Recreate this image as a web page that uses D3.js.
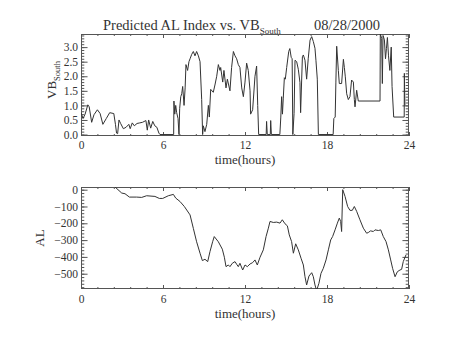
<!DOCTYPE html>
<html>
<head>
<meta charset="utf-8">
<script src="https://cdn.jsdelivr.net/npm/d3@7/dist/d3.min.js"></script>
<style>
  html, body { margin: 0; padding: 0; background: #fff; }
  svg { display: block; }
  text { font-family: "Liberation Serif", "DejaVu Serif", serif; fill: #333; }
</style>
</head>
<body>
<svg id="chart" width="454" height="341"></svg>
<script>
// Hour ticks shared by both panels
const hourTicks = [0, 6, 12, 18, 24];
const vbTicks = [0, 0.5, 1.0, 1.5, 2.0, 2.5, 3.0];
const alTicks = [-500, -400, -300, -200, -100, 0];

// VB_South (mV/m) against time in hours
const vbTime = [
  0.00, 0.15, 0.30, 0.50, 0.60, 0.78, 0.95, 1.20, 1.40, 1.60, 1.85, 2.10, 2.40, 2.52, 2.60, 2.68, 2.78, 2.90,
  3.10, 3.30, 3.50, 3.60, 3.75, 3.90, 4.10, 4.30, 4.50, 4.75, 4.85, 4.95, 5.10, 5.25, 5.40, 5.55, 5.70, 5.78,
  6.78, 6.80, 6.86, 6.93, 7.00, 7.10, 7.17, 7.22, 7.30, 7.37, 7.44, 7.54, 7.62, 7.68, 7.80, 7.90, 7.98, 8.10,
  8.22, 8.34, 8.46, 8.59, 8.71, 8.83, 8.90, 8.95, 9.07, 9.20, 9.32, 9.39, 9.49, 9.68, 9.80, 9.93, 10.05, 10.17,
  10.22, 10.37, 10.46, 10.61, 10.71, 10.90, 11.02, 11.15, 11.27, 11.39, 11.51, 11.63, 11.76, 11.88, 12.00, 12.12,
  12.24, 12.37, 12.41, 12.56, 12.73, 12.85, 12.93, 13.00, 13.55, 13.58, 13.63, 13.85, 13.88, 13.93, 14.55, 14.62,
  14.68, 14.74, 14.80, 14.88, 14.95, 15.05, 15.20, 15.28, 15.38, 15.45, 15.50, 15.59, 15.66, 15.78, 15.90, 16.02,
  16.07, 16.20, 16.27, 16.39, 16.51, 16.63, 16.76, 16.88, 17.00, 17.12, 17.19, 17.29, 17.37, 18.45, 18.50, 18.60,
  18.65, 18.71, 18.83, 18.90, 19.07, 19.20, 19.27, 19.34, 19.44, 19.56, 19.68, 19.80, 19.93, 20.00, 20.05, 20.17,
  20.29, 21.88, 21.90, 22.00, 22.05, 22.10, 22.20, 22.28, 22.35, 22.42, 22.50, 22.60, 22.70, 22.76, 22.88, 23.65,
  23.66, 23.70
];
const vbValue = [
  0.75, 0.55, 0.70, 1.02, 0.95, 0.42, 0.68, 0.85, 0.72, 0.35, 0.55, 0.75, 0.72, 0.35, 0.05, 0.03, 0.50, 0.38,
  0.20, 0.25, 0.35, 0.20, 0.40, 0.30, 0.38, 0.40, 0.42, 0.48, 0.15, 0.50, 0.22, 0.45, 0.30, 0.25, 0.05, 0.00,
  0.00, 1.15, 0.70, 1.00, 0.75, 0.55, 0.00, 0.90, 1.30, 1.40, 1.65, 1.00, 1.60, 2.40, 2.20, 2.50, 2.60, 2.75,
  2.85, 2.70, 2.85, 2.70, 2.50, 1.20, 0.00, 0.30, 0.10, 0.35, 1.00, 0.60, 1.55, 1.45, 1.70, 2.00, 2.40, 2.20,
  2.30, 1.80, 2.20, 1.60, 1.90, 1.50, 2.30, 2.85, 2.70, 2.60, 2.40, 2.30, 1.60, 1.30, 1.80, 2.45,
  2.20, 1.50, 0.70, 0.85, 2.00, 2.35, 1.00, 0.00, 0.00, 0.45, 0.00, 0.00, 0.48, 0.00, 0.00, 0.60,
  1.30, 0.70, 1.25, 1.95, 1.90, 2.30, 2.85, 2.95, 2.65, 2.60, 0.00, 0.72, 2.55, 2.50, 2.24, 1.79,
  0.75, 2.67, 2.73, 2.55, 1.90, 2.62, 3.24, 3.36, 3.19, 2.96, 2.55, 1.90, 0.00, 0.00, 0.55, 0.60,
  1.80, 3.03, 2.20, 1.75, 1.75, 2.58, 2.30, 1.98, 1.40, 1.20, 1.30, 1.87, 1.80, 1.20, 0.95, 1.52,
  1.15, 1.15, 3.45, 3.30, 1.75, 3.40, 3.25, 2.60, 2.95, 3.33, 2.70, 2.20, 3.00, 1.65, 0.60, 0.60,
  2.10, 1.00
];

// Predicted AL index (nT) against time in hours
const alTime = [
  2.49, 2.98, 3.22, 3.54, 4.07, 4.44, 4.80, 5.41, 5.73, 5.98, 6.39, 6.76, 6.93, 7.24, 7.56, 7.98, 8.22, 8.46,
  8.71, 8.88, 9.07, 9.27, 9.44, 9.63, 9.75, 10.05, 10.34, 10.49, 10.61, 10.78, 10.90, 11.07, 11.27, 11.39, 11.51,
  11.63, 11.83, 12.00, 12.17, 12.37, 12.56, 12.73, 12.90, 13.10, 13.34, 13.54, 13.71, 13.83, 14.07, 14.32, 14.56,
  14.73, 14.93, 15.10, 15.24, 15.41, 15.54, 15.71, 15.90, 16.10, 16.27, 16.39, 16.51, 16.68, 16.88, 17.00, 17.12,
  17.24, 17.41, 17.56, 17.73, 17.93, 18.10, 18.27, 18.41, 18.59, 18.76, 18.90, 19.00, 19.07, 19.15, 19.32, 19.51,
  19.68, 19.85, 20.00, 20.17, 20.41, 20.66, 20.90, 21.02, 21.19, 21.39, 21.51, 21.76, 21.93, 22.12, 22.32, 22.49,
  22.66, 22.80, 22.98, 23.15, 23.34, 23.46, 23.58, 23.78
];
const alValue = [
  16, -20, -24, -44, -44, -46, -36, -40, -52, -52, -36, -28, -50, -70, -100, -150, -230, -310,
  -378, -422, -414, -428, -368, -310, -279, -310, -354, -402, -458, -448, -458, -438, -428, -444, -458,
  -438, -478, -448, -458, -442, -434, -418, -448, -402, -358, -279, -229, -189, -195, -193, -199,
  -179, -203, -215, -269, -309, -378, -322, -358, -408, -448, -518, -567, -514, -494, -518, -567,
  -600, -557, -498, -468, -418, -358, -299, -279, -239, -199, -169, -189, -249, 0, -40, -100,
  -123, -123, -100, -129, -179, -229, -259, -255, -245, -249, -239, -243, -239, -279, -309, -358,
  -418, -468, -518, -488, -478, -474, -428, -388
];

const vbData = vbTime.map((t, i) => ({ t, v: vbValue[i] }));
const alData = alTime.map((t, i) => ({ t, v: alValue[i] }));

const svg = d3.select("#chart");
const AXIS = "#555";
const LINE = "#333";

const left = 81, right = 409;
const x = d3.scaleLinear().domain([0, 24]).range([left, right]);
const hourMinor = d3.range(0, 24.01, 1.2);

function panel(opt) {
  const { top, bottom, y, majors, minors, fmt, data, id, labelPad } = opt;
  const g = svg.append("g");
  const w = right - left, h = bottom - top;
  const xt = Math.round(h * 0.02 * 10) / 10;   // x tick length
  const yt = w * 0.02;                           // y tick length

  g.append("clipPath").attr("id", id).append("rect")
    .attr("x", left).attr("y", top).attr("width", w).attr("height", h);

  const strokeAxis = sel => {
    sel.select(".domain").remove();
    sel.selectAll("line").attr("stroke", AXIS);
  };

  // bottom axis with labels
  g.append("g").attr("transform", `translate(0,${bottom})`)
    .call(d3.axisBottom(x).tickValues(hourTicks).tickSize(-xt * 2).tickPadding(labelPad).tickFormat(d3.format("d")))
    .call(strokeAxis)
    .call(s => s.selectAll("text").attr("font-size", 11.5).attr("fill", "#333")
      .style("font-family", '"Liberation Serif", serif'));
  g.append("g").attr("transform", `translate(0,${bottom})`)
    .call(d3.axisBottom(x).tickValues(hourMinor).tickSize(-xt).tickFormat(""))
    .call(strokeAxis);
  // top axis, ticks only
  g.append("g").attr("transform", `translate(0,${top})`)
    .call(d3.axisTop(x).tickValues(hourTicks).tickSize(-xt * 2).tickFormat(""))
    .call(strokeAxis);
  g.append("g").attr("transform", `translate(0,${top})`)
    .call(d3.axisTop(x).tickValues(hourMinor).tickSize(-xt).tickFormat(""))
    .call(strokeAxis);

  // left axis with labels
  g.append("g").attr("transform", `translate(${left},0)`)
    .call(d3.axisLeft(y).tickValues(majors).tickSize(-yt).tickPadding(3).tickFormat(fmt))
    .call(strokeAxis)
    .call(s => s.selectAll("text").attr("font-size", 11.5).attr("fill", "#333")
      .style("font-family", '"Liberation Serif", serif'));
  g.append("g").attr("transform", `translate(${left},0)`)
    .call(d3.axisLeft(y).tickValues(minors).tickSize(-yt / 2).tickFormat(""))
    .call(strokeAxis);
  // right axis, ticks only
  g.append("g").attr("transform", `translate(${right},0)`)
    .call(d3.axisRight(y).tickValues(majors).tickSize(-yt).tickFormat(""))
    .call(strokeAxis);
  g.append("g").attr("transform", `translate(${right},0)`)
    .call(d3.axisRight(y).tickValues(minors).tickSize(-yt / 2).tickFormat(""))
    .call(strokeAxis);

  // frame
  g.append("rect").attr("x", left + 0.5).attr("y", top + 0.5)
    .attr("width", w - 1).attr("height", h - 1)
    .attr("fill", "none").attr("stroke", AXIS);

  // data trace
  g.append("path").datum(data)
    .attr("clip-path", `url(#${id})`)
    .attr("fill", "none").attr("stroke", LINE).attr("stroke-width", 1)
    .attr("stroke-linejoin", "round")
    .attr("d", d3.line().x(d => x(d.t)).y(d => y(d.v)));

  // x title
  g.append("text").attr("x", (left + right) / 2).attr("y", opt.xTitleY)
    .attr("text-anchor", "middle").attr("font-size", 13).text("time(hours)");
  return g;
}

// Upper panel: VB_South
const yVB = d3.scaleLinear().domain([-0.05, 3.45]).range([136, 34]);
panel({
  top: 34, bottom: 136, y: yVB, id: "clipVB",
  majors: vbTicks, minors: d3.range(0, 3.41, 0.1).map(v => +v.toFixed(1)),
  fmt: d3.format(".1f"), data: vbData, labelPad: 5, xTitleY: 163.5
});

// Lower panel: AL
const yAL = d3.scaleLinear().domain([-591, 16]).range([289, 187]);
panel({
  top: 187, bottom: 289, y: yAL, id: "clipAL",
  majors: alTicks, minors: d3.range(-580, 1, 20),
  fmt: d3.format("d"), data: alData, labelPad: 6, xTitleY: 318
});

// Title
const title = svg.append("text").attr("x", 103).attr("y", 29.5).attr("font-size", 14.5);
title.append("tspan").text("Predicted AL Index vs. VB");
title.append("tspan").attr("font-size", 9).attr("dy", 4).text("South");
svg.append("text").attr("x", 380).attr("y", 29.5).attr("font-size", 14.5)
  .attr("text-anchor", "end").text("08/28/2000");

// Y titles
const yl = svg.append("text").attr("transform", "translate(56,80) rotate(-90)")
  .attr("text-anchor", "middle").attr("font-size", 13);
yl.append("tspan").text("VB");
yl.append("tspan").attr("font-size", 8.5).attr("dy", 4).text("South");

svg.append("text").attr("transform", "translate(44,238) rotate(-90)")
  .attr("text-anchor", "middle").attr("font-size", 13).text("AL");
</script>
</body>
</html>
